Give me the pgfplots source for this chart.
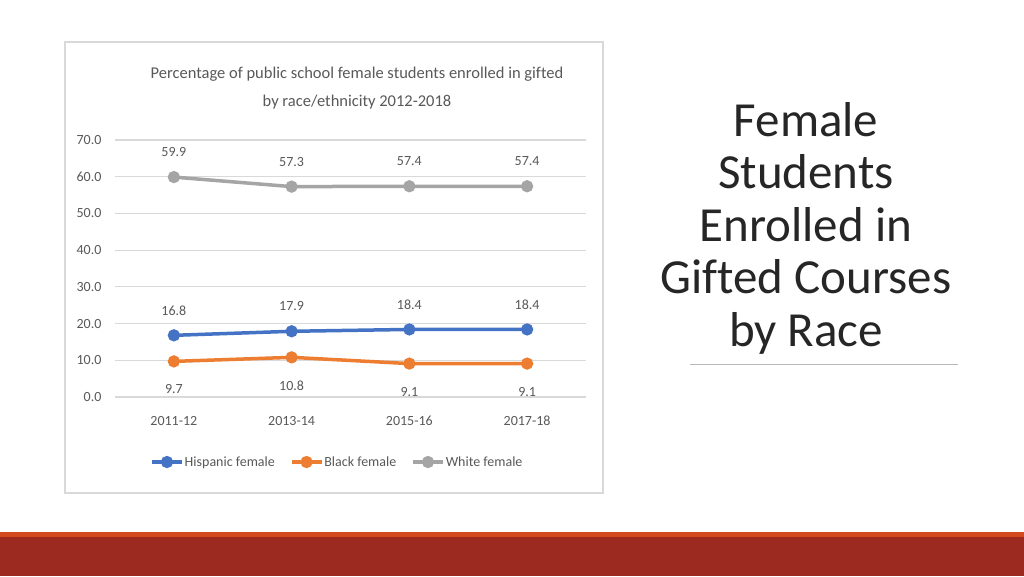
\documentclass[border=0pt]{standalone}
\usepackage{fontspec}
\setmainfont[Ligatures=NoCommon]{Carlito}
\usepackage{pgfplots}
\pgfplotsset{compat=1.18}
\definecolor{hisp}{HTML}{4472C4}
\definecolor{blk}{HTML}{ED7D31}
\definecolor{wht}{HTML}{A5A5A5}
\definecolor{txt}{HTML}{595959}
\definecolor{gridc}{HTML}{D9D9D9}
\definecolor{slidetxt}{HTML}{262626}
\definecolor{barorange}{HTML}{D24A1E}
\definecolor{barred}{HTML}{9C2A20}
\begin{document}
\begin{tikzpicture}[x=1pt,y=1pt]
\useasboundingbox (0,0) rectangle (1024,576);
\fill[white] (0,0) rectangle (1024,576);
\fill[barred] (0,0) rectangle (1024,39);
\fill[barorange] (0,39) rectangle (1024,44);
\draw[gridc, line width=1.5pt] (65,83) rectangle (603,534);
\node[text=txt, align=center, font=\fontsize{16.5}{28}\selectfont] at (357,488)
  {Percentage of public school female students enrolled in gifted\\by race/ethnicity 2012-2018};
\node[text=slidetxt, align=center, font=\fontsize{49}{52.5}\selectfont] at (806,348)
  {Female\\Students\\Enrolled in\\Gifted Courses\\by Race};
\draw[gray!55, line width=1pt] (690,212) -- (958,212);
\begin{axis}[
  at={(115pt,179pt)}, anchor=south west,
  scale only axis, width=471pt, height=257pt,
  xmin=-0.5, xmax=3.5, ymin=0, ymax=70,
  xtick={0,1,2,3},
  xticklabels={2011-12,2013-14,2015-16,2017-18},
  ytick={0,10,...,70},
  ymajorgrids,
  major grid style={gridc, line width=1.2pt},
  axis line style={draw=none},
  major tick length=0pt,
  /pgf/number format/assume math mode=true,
  tick label style={text=txt, font=\fontsize{14}{16}\selectfont},
  y tick label style={/pgf/number format/.cd, fixed, fixed zerofill, precision=1, /tikz/.cd, xshift=-10pt},
  x tick label style={anchor=center, yshift=-24pt},
  nodes near coords={\pgfmathprintnumber[fixed,fixed zerofill,precision=1]{\pgfplotspointmeta}},
  nodes near coords style={text=txt, font=\fontsize{14}{16}\selectfont, anchor=center},
  every axis plot/.append style={line width=3.5pt, mark=*, mark size=4.3pt},
  legend style={draw=none, fill=none, at={(rel axis cs:0.471,-0.253)}, anchor=center,
    legend columns=3, font=\fontsize{14}{16}\selectfont, text=txt,
    /tikz/every even column/.append style={column sep=14pt},
    nodes={inner sep=1pt}},
  legend image code/.code={
    \draw[#1, mark repeat=2, mark phase=2] plot coordinates {(0pt,0pt) (15pt,0pt) (30pt,0pt)};
  },
  clip=false,
]
\addplot[hisp, mark options={fill=hisp}, nodes near coords style={yshift=25pt}] coordinates {(0,16.8) (1,17.9) (2,18.4) (3,18.4)};
\addlegendentry{Hispanic female}
\addplot[blk, mark options={fill=blk}, nodes near coords style={yshift=-28pt}] coordinates {(0,9.7) (1,10.8) (2,9.1) (3,9.1)};
\addlegendentry{Black female}
\addplot[wht, mark options={fill=wht}, nodes near coords style={yshift=25pt}] coordinates {(0,59.9) (1,57.3) (2,57.4) (3,57.4)};
\addlegendentry{White female}
\end{axis}
\end{tikzpicture}
\end{document}
